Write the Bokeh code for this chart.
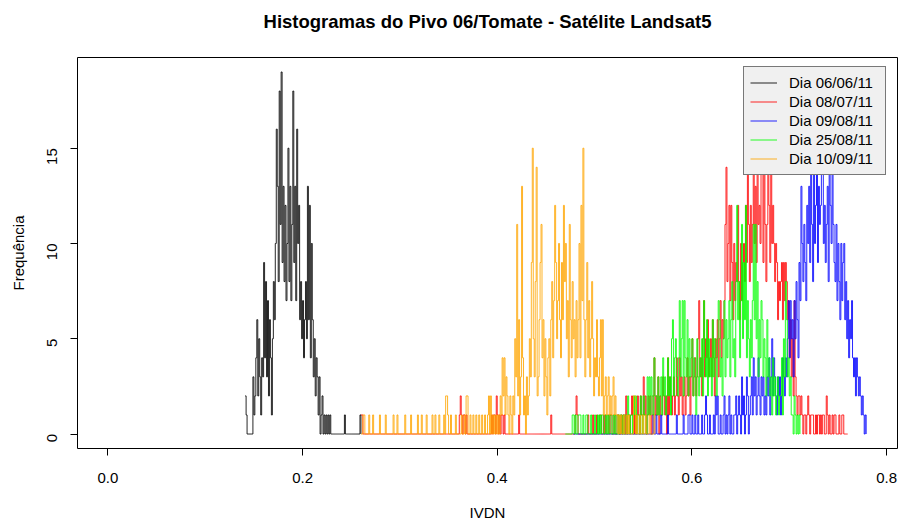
import math
import numpy as np
from bokeh.plotting import figure
from bokeh.models import Range1d, FixedTicker, PrintfTickFormatter, Legend, LegendItem, Title
from bokeh.embed import file_html
from bokeh.resources import INLINE

# ---------------- data (frequency per IVDN bin of 0.001) ----------------
bin_width = 0.001
x_ticks = [0.0, 0.2, 0.4, 0.6, 0.8]
y_ticks = [0, 5, 10, 15]
labels = ["Dia 06/06/11", "Dia 08/07/11", "Dia 09/08/11", "Dia 25/08/11", "Dia 10/09/11"]
colors = ["black", "#ff0000", "#0000ff", "#00ff00", "#ffa500"]
title_text = "Histogramas do Pivo 06/Tomate - Satélite Landsat5"

black_start = 0.141
black_counts = [
    2, 1, 0, 0, 0, 0, 0, 0, 3, 1,
    2, 4, 6, 2, 5, 3, 1, 4, 3, 9,
    4, 8, 3, 7, 2, 6, 4, 1, 5, 8,
    6, 10, 16, 13, 8, 18, 11, 19, 9, 13,
    8, 12, 7, 10, 15, 8, 13, 7, 11, 18,
    9, 13, 7, 16, 10, 12, 6, 8, 5, 7,
    4, 6, 8, 5, 13, 6, 12, 4, 10, 6,
    3, 5, 2, 4, 3, 1, 3, 0, 1, 2,
    0, 1, 0, 1, 0, 1, 0, 1, 0, 0,
    0, 0, 0, 0, 0, 0, 0, 0, 0, 0,
    0, 0, 1, 0, 0, 0, 0, 0, 0, 0,
    0, 0, 0, 0, 0, 0, 0, 0, 1, 0,
]

red_start = 0.260
red_counts = [
    1, 1, 0, 0, 0, 0, 0, 0, 0, 0,
    0, 0, 0, 0, 0, 0, 0, 0, 0, 0,
    0, 0, 0, 0, 0, 0, 0, 0, 0, 0,
    0, 0, 0, 0, 0, 0, 0, 0, 0, 0,
    0, 0, 0, 0, 0, 0, 0, 0, 0, 0,
    0, 0, 0, 0, 0, 0, 0, 0, 0, 0,
    0, 0, 0, 0, 0, 0, 0, 0, 0, 0,
    0, 0, 0, 0, 0, 0, 0, 0, 0, 0,
    0, 0, 0, 0, 0, 0, 0, 0, 0, 0,
    0, 0, 0, 0, 0, 0, 0, 0, 0, 0,
    0, 1, 2, 1, 0, 1, 1, 0, 1, 0,
    0, 0, 0, 0, 0, 0, 0, 0, 0, 0,
    0, 0, 0, 0, 0, 0, 0, 0, 0, 0,
    0, 0, 0, 0, 1, 0, 1, 1, 0, 2,
    1, 0, 1, 0, 1, 1, 0, 1, 0, 0,
    0, 0, 0, 0, 0, 0, 0, 0, 0, 0,
    0, 0, 1, 0, 0, 0, 0, 0, 0, 0,
    0, 0, 0, 0, 0, 0, 0, 0, 0, 0,
    0, 0, 0, 0, 0, 0, 0, 0, 0, 0,
    0, 0, 0, 0, 0, 1, 0, 0, 0, 0,
    0, 0, 0, 0, 0, 0, 0, 0, 0, 0,
    0, 0, 0, 0, 0, 0, 0, 0, 0, 0,
    1, 2, 1, 0, 0, 0, 0, 0, 0, 0,
    0, 0, 0, 1, 0, 0, 0, 0, 1, 0,
    0, 0, 1, 0, 0, 1, 1, 0, 0, 1,
    0, 1, 0, 0, 1, 0, 1, 1, 0, 0,
    1, 0, 0, 1, 1, 0, 0, 1, 0, 1,
    1, 0, 2, 0, 1, 1, 0, 1, 2, 1,
    0, 1, 0, 1, 2, 1, 0, 2, 1, 1,
    3, 1, 2, 0, 1, 2, 1, 2, 0, 1,
    2, 4, 1, 2, 1, 3, 0, 2, 1, 1,
    3, 2, 1, 2, 0, 4, 1, 3, 2, 1,
    2, 3, 1, 2, 4, 2, 1, 4, 2, 3,
    1, 2, 3, 1, 2, 4, 2, 3, 1, 3,
    5, 2, 3, 4, 2, 3, 5, 7, 3, 4,
    2, 5, 7, 3, 5, 4, 6, 3, 4, 5,
    3, 6, 4, 2, 5, 4, 6, 3, 5, 7,
    4, 6, 5, 7, 11, 14, 8, 10, 12, 7,
    12, 9, 6, 10, 7, 9, 8, 12, 8, 6,
    10, 7, 9, 10, 8, 12, 9, 15, 11, 8,
    12, 9, 11, 14, 10, 13, 9, 14, 11, 12,
    10, 14, 15, 9, 14, 11, 8, 11, 14, 12,
    9, 16, 10, 12, 10, 8, 10, 9, 6, 8,
    7, 8, 9, 6, 9, 7, 9, 8, 6, 7,
    4, 6, 3, 5, 2, 7, 3, 2, 1, 2,
    2, 1, 2, 1, 0, 1, 1, 0, 1, 2,
    1, 0, 1, 1, 1, 0, 0, 1, 0, 1,
    1, 0, 1, 0, 1, 1, 0, 0, 2, 1,
    0, 1, 0, 0, 1, 0, 1, 1, 0, 0,
    0, 1, 0, 0, 1, 1, 0, 0, 0, 0,
    0,
]

blue_start = 0.478
blue_counts = [
    0, 0,
    0, 0, 0, 0, 0, 0, 0, 0, 0, 0,
    0, 0, 0, 0, 0, 0, 0, 0, 0, 0,
    0, 0, 0, 0, 0, 0, 0, 0, 0, 0,
    0, 0, 0, 0, 0, 0, 0, 0, 0, 0,
    0, 0, 0, 0, 0, 0, 0, 0, 0, 0,
    0, 0, 0, 0, 0, 0, 0, 0, 0, 0,
    0, 0, 0, 0, 0, 0, 0, 0, 0, 0,
    0, 0, 0, 0, 0, 0, 0, 0, 0, 0,
    1, 0, 0, 1, 0, 0, 0, 0, 1, 0,
    0, 0, 0, 0, 0, 1, 0, 0, 0, 0,
    0, 0, 0, 0, 1, 0, 0, 0, 0, 0,
    0, 1, 0, 0, 0, 0, 1, 1, 0, 0,
    1, 0, 0, 1, 0, 0, 1, 0, 0, 0,
    1, 0, 0, 1, 2, 1, 0, 0, 1, 0,
    0, 0, 1, 0, 2, 1, 2, 0, 0, 1,
    0, 0, 1, 2, 0, 1, 0, 1, 2, 0,
    1, 0, 0, 1, 1, 2, 0, 1, 2, 1,
    0, 3, 1, 2, 0, 1, 3, 2, 0, 1,
    2, 3, 1, 4, 2, 3, 1, 2, 4, 2,
    1, 3, 2, 3, 1, 2, 1, 3, 2, 4,
    1, 3, 5, 2, 4, 3, 2, 1, 3, 2,
    3, 1, 2, 4, 3, 2, 4, 3, 5, 7,
    4, 7, 5, 6, 3, 7, 5, 8, 6, 4,
    9, 7, 13, 10, 8, 11, 9, 7, 12, 10,
    13, 9, 14, 11, 8, 14, 10, 12, 15, 9,
    13, 11, 12, 16, 14, 10, 12, 9, 11, 13,
    8, 14, 12, 10, 15, 11, 9, 8, 11, 7,
    10, 8, 6, 10, 7, 9, 10, 6, 8, 5,
    7, 4, 6, 5, 7, 4, 3, 4, 2, 4,
    3, 2, 3, 2, 1, 2, 1, 0, 1, 0,
]

green_start = 0.470
green_counts = [
    0, 0, 0, 0, 0, 0, 0, 1, 1, 0,
    1, 0, 0, 1, 1, 1, 0, 0, 1, 0,
    0, 1, 1, 0, 0, 0, 1, 0, 0, 0,
    1, 0, 0, 1, 0, 1, 0, 1, 1, 0,
    0, 1, 0, 1, 0, 1, 1, 0, 0, 1,
    0, 1, 0, 0, 1, 0, 1, 1, 0, 1,
    0, 1, 1, 0, 2, 1, 0, 1, 1, 0,
    2, 1, 2, 0, 1, 1, 0, 2, 1, 0,
    2, 1, 1, 0, 3, 1, 3, 1, 3, 2,
    1, 4, 2, 2, 1, 3, 1, 2, 3, 1,
    4, 2, 3, 1, 2, 4, 2, 3, 1, 5,
    6, 2, 4, 5, 3, 2, 4, 7, 3, 5,
    7, 2, 7, 4, 3, 6, 2, 5, 3, 4,
    5, 2, 4, 3, 1, 5, 3, 2, 4, 3,
    5, 2, 7, 4, 3, 6, 2, 5, 3, 4,
    2, 6, 3, 5, 4, 2, 5, 7, 6, 3,
    4, 2, 5, 7, 3, 6, 4, 5, 7, 3,
    6, 8, 4, 5, 3, 8, 12, 6, 8, 4,
    7, 11, 5, 9, 6, 12, 4, 7, 5, 3,
    6, 4, 7, 11, 6, 11, 5, 8, 3, 6,
    4, 7, 6, 3, 5, 4, 2, 6, 3, 4,
    2, 3, 1, 4, 2, 3, 1, 2, 3, 1,
    2, 2, 4, 1, 5, 3, 8, 6, 3, 4,
    2, 3, 1, 1, 0, 2, 1, 0, 1, 0,
    1, 0,
]

orange_start = 0.260
orange_counts = [
    0, 0, 1, 1, 0, 0, 0, 0, 1, 0,
    0, 0, 1, 0, 0, 0, 0, 0, 0, 1,
    0, 0, 0, 0, 0, 1, 0, 0, 0, 0,
    0, 0, 0, 1, 0, 0, 0, 1, 0, 0,
    0, 0, 0, 0, 0, 1, 0, 0, 0, 0,
    0, 1, 0, 0, 0, 0, 0, 0, 1, 0,
    0, 0, 1, 0, 0, 0, 0, 1, 0, 0,
    0, 0, 0, 1, 0, 0, 1, 0, 0, 0,
    1, 0, 0, 0, 0, 1, 0, 2, 2, 1,
    0, 0, 1, 0, 0, 0, 0, 1, 0, 0,
    0, 0, 0, 1, 0, 0, 1, 0, 2, 2,
    0, 0, 1, 0, 0, 1, 0, 0, 1, 0,
    0, 1, 0, 0, 1, 0, 0, 1, 0, 0,
    1, 2, 0, 2, 0, 1, 0, 1, 0, 1,
    0, 1, 0, 2, 1, 4, 2, 4, 1, 3,
    2, 1, 0, 2, 1, 0, 2, 1, 5, 3,
    11, 2, 6, 1, 3, 13, 4, 1, 2, 0,
    3, 1, 2, 5, 3, 9, 15, 5, 3, 8,
    14, 2, 3, 6, 9, 11, 4, 6, 2, 5,
    3, 1, 4, 5, 2, 6, 8, 4, 7, 12,
    9, 5, 7, 10, 6, 4, 9, 6, 12, 8,
    10, 5, 7, 3, 11, 6, 4, 8, 5, 6,
    3, 7, 4, 6, 10, 4, 12, 7, 15, 6,
    3, 6, 9, 4, 7, 3, 5, 8, 5, 2,
    4, 3, 6, 3, 2, 4, 6, 2, 6, 1,
    2, 3, 1, 2, 3, 1, 2, 1, 2, 3,
    1, 2, 1, 1, 0, 1, 0, 1, 0, 0,
    1, 0, 0, 1, 0, 1, 0, 0, 0, 0,
    2, 2, 0, 1, 0, 0, 1, 0, 0, 1,
    0, 0, 1, 0, 0, 0, 1, 0, 0, 0,
    0, 1, 0,
]

series = [
    (black_start, black_counts),
    (red_start, red_counts),
    (blue_start, blue_counts),
    (green_start, green_counts),
    (orange_start, orange_counts),
]

FONT = "Liberation Sans"

p = figure(width=899, height=523, output_backend="svg", toolbar_location=None,
           x_range=Range1d(-0.0312, 0.8112), y_range=Range1d(-0.76, 19.76),
           min_border_left=77, min_border_right=2, min_border_top=57, min_border_bottom=70,
           background_fill_color="white", border_fill_color="white")

# real title (outer) + an invisible spacer title stacked next to the frame
p.title.text = title_text
p.title.align = "center"
p.title.standoff = 0
p.title.text_font = FONT
p.title.text_font_size = "18.5px"
p.title.text_font_style = "bold"
p.title.text_color = "black"
p.add_layout(Title(text=" ", text_font_size="1px", standoff=23), "above")

p.grid.visible = False
p.outline_line_color = "black"
p.outline_line_width = 1
p.outline_line_alpha = 1

for ax in (p.xaxis[0], p.yaxis[0]):
    ax.axis_line_color = None
    ax.major_tick_in = 0
    ax.major_tick_out = 7
    ax.minor_tick_out = 0
    ax.minor_tick_in = 0
    ax.major_tick_line_color = "black"
    ax.major_label_text_font = FONT
    ax.major_label_text_font_size = "15px"
    ax.major_label_text_color = "black"
    ax.axis_label_text_font = FONT
    ax.axis_label_text_font_size = "15px"
    ax.axis_label_text_font_style = "normal"
    ax.axis_label_text_color = "black"

p.xaxis.ticker = FixedTicker(ticks=x_ticks)
p.xaxis.formatter = PrintfTickFormatter(format="%.1f")
p.xaxis.axis_label = "IVDN"
p.xaxis.major_label_standoff = 17
p.xaxis.axis_label_standoff = 18

p.yaxis.ticker = FixedTicker(ticks=y_ticks)
p.yaxis.formatter = PrintfTickFormatter(format="%d")
p.yaxis.axis_label = "Frequência"
p.yaxis.major_label_orientation = math.pi / 2
p.yaxis.major_label_standoff = 18
p.yaxis.axis_label_standoff = 13

renderers = []
for (start, counts), col in zip(series, colors):
    xs = np.round(start + bin_width * np.arange(len(counts)), 3)
    r = p.step(xs, counts, mode="after", line_color=col, line_width=0.85)
    renderers.append(r)

legend = Legend(
    items=[LegendItem(label=lab, renderers=[r]) for lab, r in zip(labels, renderers)],
    location=(666, 273), margin=0, padding=6, spacing=0,
    glyph_width=27, glyph_height=19, label_height=19, label_width=90, label_standoff=12,
    label_text_font=FONT, label_text_font_size="15px", label_text_color="black",
    background_fill_color="#f0f0f0", background_fill_alpha=1,
    border_line_color="black", border_line_width=1,
)
p.add_layout(legend)

open("out.html", "w").write(file_html(p, INLINE))
